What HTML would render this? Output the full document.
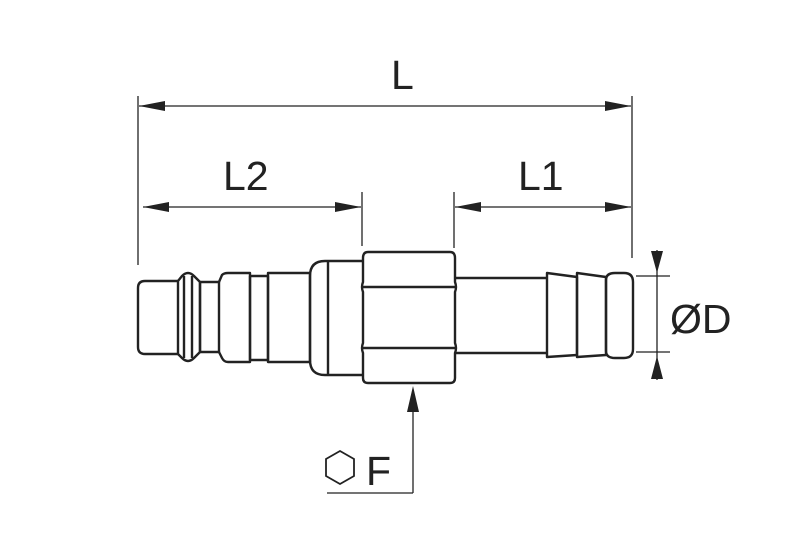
<!DOCTYPE html>
<html><head><meta charset="utf-8"><style>
html,body{margin:0;padding:0;background:#fff;}
svg{display:block;}
text{font-family:"Liberation Sans",Arial,sans-serif;fill:#222;}
</style></head><body>
<svg width="788" height="551" viewBox="0 0 788 551" xmlns="http://www.w3.org/2000/svg">
<defs>
<marker id="a" viewBox="0 0 26 10" refX="26" refY="5" markerWidth="26" markerHeight="10" markerUnits="userSpaceOnUse" orient="auto-start-reverse"><path d="M0,0 L26,5 L0,10 Z" fill="#222"/></marker>
</defs>
<g stroke="#222" fill="none" stroke-width="1.3">
<line x1="138" y1="96" x2="138" y2="265"/>
<line x1="632" y1="96" x2="632" y2="258"/>
<line x1="362" y1="192" x2="362" y2="246"/>
<line x1="454" y1="192" x2="454" y2="248"/>
<line x1="139" y1="106" x2="631" y2="106" marker-start="url(#a)" marker-end="url(#a)"/>
<line x1="143" y1="207" x2="361" y2="207" marker-start="url(#a)" marker-end="url(#a)"/>
<line x1="455" y1="207" x2="631" y2="207" marker-start="url(#a)" marker-end="url(#a)"/>
<line x1="636" y1="276" x2="670" y2="276"/>
<line x1="636" y1="352" x2="670" y2="352"/>
<line x1="657" y1="250" x2="657" y2="380"/>
</g>
<path d="M651,251 L663,251 L657,273 Z M651,379 L663,379 L657,356 Z" fill="#222"/>
<g stroke="#222" fill="none" stroke-width="1.3">
<line x1="413" y1="400" x2="413" y2="493"/>
<line x1="327" y1="493" x2="413" y2="493"/>
<polygon points="340,451 354,459 354,476 340,484 326,476 326,459" stroke-width="1.8"/>
</g>
<path d="M407,412 L419,412 L413,386 Z" fill="#222"/>
<g stroke="#222" fill="none" stroke-width="2.4" stroke-linejoin="round">
<path d="M178,281 L145,281 Q138,281 138,288 L138,347 Q138,354 145,354 L178,354"/>
<path d="M178,281 L182,276 Q188,270 194,276 L200,282 L200,352 L194,358 Q188,364 182,358 L178,354 Z"/>
<line x1="184" y1="276" x2="184" y2="358"/>
<line x1="192" y1="276" x2="192" y2="358"/>
<rect x="200" y="282" width="19" height="70"/>
<path d="M219,282 L222,275 Q224,273 228,273 L250,273 L250,362 L228,362 Q224,362 222,358 L219,352"/>
<rect x="250" y="276" width="18" height="84"/>
<rect x="268" y="273" width="42" height="89"/>
<path d="M363,261 L325,261 Q310,261 310,276 L310,360 Q310,375 325,375 L363,375"/>
<line x1="328" y1="261" x2="328" y2="375"/>
<path d="M368,252 L450,252 Q455,252 455,258 L455,282 Q457,287 455,292 L455,343 Q457,348 455,353 L455,378 Q455,383 450,383 L368,383 Q363,383 363,378 L363,353 Q361,348 363,343 L363,292 Q361,287 363,282 L363,258 Q363,252 368,252 Z"/>
<line x1="363" y1="287" x2="455" y2="287"/>
<line x1="363" y1="348" x2="455" y2="348"/>
<line x1="455" y1="278" x2="547" y2="278"/>
<line x1="455" y1="353" x2="547" y2="353"/>
<path d="M547,273 L577,277 L577,355 L547,357 Z"/>
<path d="M577,273 L606,277 L606,355 L577,357 Z"/>
<path d="M606,280 Q606,273 615,273 L624,273 Q633,273 633,282 L633,349 Q633,358 624,358 L615,358 Q606,358 606,351 Z"/>
</g>
<text x="391" y="89" font-size="41">L</text>
<text x="223" y="190" font-size="41">L2</text>
<text x="518" y="190" font-size="41">L1</text>
<text x="670" y="333" font-size="41">ØD</text>
<text x="366" y="485" font-size="41">F</text>
</svg>
</body></html>
